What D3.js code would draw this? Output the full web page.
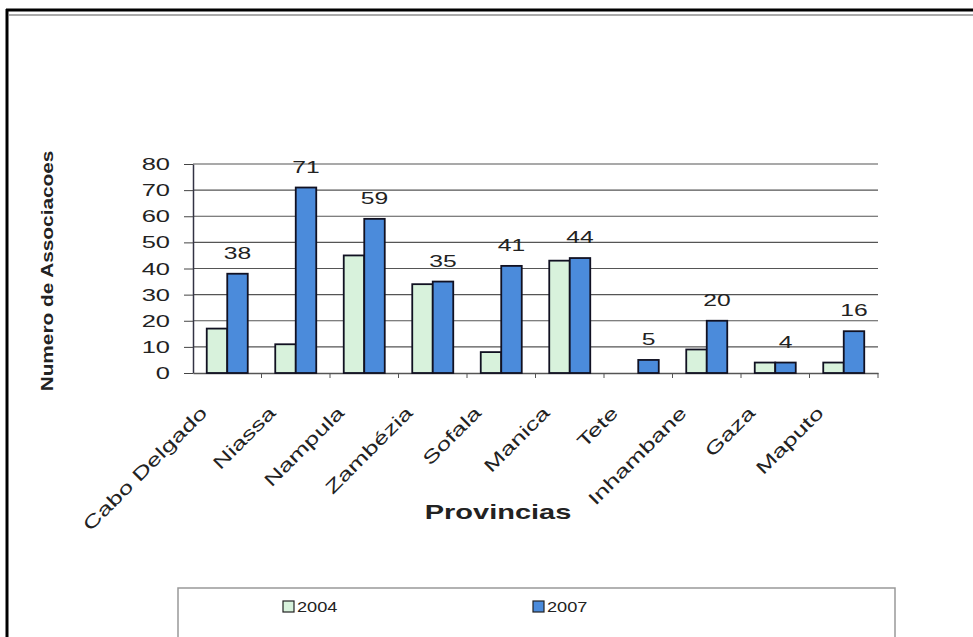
<!DOCTYPE html>
<html>
<head>
<meta charset="utf-8">
<script src="https://cdn.jsdelivr.net/npm/d3@7"></script>
<style>
  body { margin: 0; background: #fff; }
  text { font-family: "Liberation Sans", Arial, sans-serif; fill: #222; }
</style>
</head>
<body>
<script>
// provinces and number of associations
var provinces = ["Cabo Delgado", "Niassa", "Nampula", "Zambézia", "Sofala",
                 "Manica", "Tete", "Inhambane", "Gaza", "Maputo"];
var years = ["2004", "2007"];
var v2004 = [17, 11, 45, 34, 8, 43, 0, 9, 4, 4];
var v2007 = [38, 71, 59, 35, 41, 44, 5, 20, 4, 16];
var yTicks = [0, 10, 20, 30, 40, 50, 60, 70, 80];

var w = 973, h = 637;
// plot box (note: "top" is a reserved window name, so use plot*)
var plotLeft = 193, plotRight = 878, plotTop = 164, plotBottom = 373;
var colors = { "2004": "#d8f2dc", "2007": "#4b8bdb" };
var sx = 1.45; // the picture has wide, stretched text

var svg = d3.select("body").append("svg")
    .attr("width", w)
    .attr("height", h);

// outer frame
svg.append("line").attr("x1", 6).attr("x2", w).attr("y1", 10).attr("y2", 10)
   .attr("stroke", "#000").attr("stroke-width", 3);
svg.append("line").attr("x1", 7).attr("x2", 7).attr("y1", 9).attr("y2", h)
   .attr("stroke", "#000").attr("stroke-width", 3);
svg.append("line").attr("x1", 9).attr("x2", w).attr("y1", 15).attr("y2", 15)
   .attr("stroke", "#aaa").attr("stroke-width", 2);

var x0 = d3.scaleBand().domain(provinces).range([plotLeft, plotRight]).padding(0);
var bw = x0.bandwidth();
var x1 = d3.scaleBand().domain(years).range([bw / 2 - 20.5, bw / 2 + 20.5]);
var y = d3.scaleLinear().domain([0, 80]).range([plotBottom, plotTop]);

// put a text at x,y, rotated, stretched along its baseline
function label(x, y, rot, scale, str, size, anchor, weight) {
    svg.append("text")
       .attr("transform", "translate(" + x + "," + y + ") rotate(" + rot + ") scale(" + scale + ",1)")
       .attr("text-anchor", anchor)
       .attr("font-size", size + "px")
       .attr("font-weight", weight || "normal")
       .text(str);
}

// gridlines
svg.selectAll("line.grid")
   .data(yTicks.slice(1))
   .enter()
   .append("line")
   .attr("class", "grid")
   .attr("x1", plotLeft).attr("x2", plotRight)
   .attr("y1", function(d) { return y(d); })
   .attr("y2", function(d) { return y(d); })
   .attr("stroke", "#555")
   .attr("stroke-width", 1.2);

// y axis
var yAxis = svg.append("g")
   .attr("transform", "translate(" + plotLeft + ",0)")
   .call(d3.axisLeft(y).tickValues(yTicks).tickSize(9).tickSizeOuter(0).tickFormat(""));
yAxis.select(".domain").attr("stroke", "#334").attr("stroke-width", 1.5);
yAxis.selectAll(".tick line").attr("stroke", "#444");

yTicks.forEach(function(t) {
    label(170, y(t) + 6, 0, 1.5, t, 17, "end");
});

// x axis
var xAxis = svg.append("g")
   .attr("transform", "translate(0," + plotBottom + ")")
   .call(d3.axisBottom(x0).tickSize(0).tickSizeOuter(0).tickFormat(""));
xAxis.select(".domain").attr("stroke", "#555").attr("stroke-width", 1.5);
svg.selectAll("line.xtick")
   .data(provinces)
   .enter()
   .append("line")
   .attr("class", "xtick")
   .attr("x1", function(d) { return x0(d) + bw; })
   .attr("x2", function(d) { return x0(d) + bw; })
   .attr("y1", plotBottom).attr("y2", plotBottom + 5)
   .attr("stroke", "#555");

provinces.forEach(function(p) {
    label(x0(p) + bw / 2 - 19, 414, -45, sx, p, 18, "end");
});

// bars
var rows = [];
provinces.forEach(function(p, i) {
    rows.push({ p: p, year: "2004", v: v2004[i] });
    rows.push({ p: p, year: "2007", v: v2007[i] });
});

svg.selectAll("rect.bar")
   .data(rows.filter(function(d) { return d.v > 0; }))
   .enter()
   .append("rect")
   .attr("class", "bar")
   .attr("x", function(d) { return x0(d.p) + x1(d.year); })
   .attr("y", function(d) { return y(d.v); })
   .attr("width", x1.bandwidth())
   .attr("height", function(d) { return plotBottom - y(d.v); })
   .attr("fill", function(d) { return colors[d.year]; })
   .attr("stroke", "#112")
   .attr("stroke-width", 1.8);

// value labels for 2007
provinces.forEach(function(p, i) {
    label(x0(p) + x1("2007") + x1.bandwidth() / 2, y(v2007[i]) - 15, 0, sx, v2007[i], 17, "middle");
});

// axis titles
label(498, 519, 0, sx, "Provincias", 20, "middle", "bold");
label(53, 271, -90, 1.3, "Numero de Associacoes", 16, "middle", "bold");

// legend
svg.append("rect")
   .attr("x", 178).attr("y", 588)
   .attr("width", 717).attr("height", 60)
   .attr("fill", "#fff")
   .attr("stroke", "#999")
   .attr("stroke-width", 1.5);

var legX = [283, 533];
years.forEach(function(yr, i) {
    svg.append("rect")
       .attr("x", legX[i]).attr("y", 601)
       .attr("width", 11).attr("height", 11)
       .attr("fill", colors[yr])
       .attr("stroke", "#222")
       .attr("stroke-width", 1.2);
    label(legX[i] + 14, 612, 0, 1.3, yr, 14, "start");
});
</script>
</body>
</html>
